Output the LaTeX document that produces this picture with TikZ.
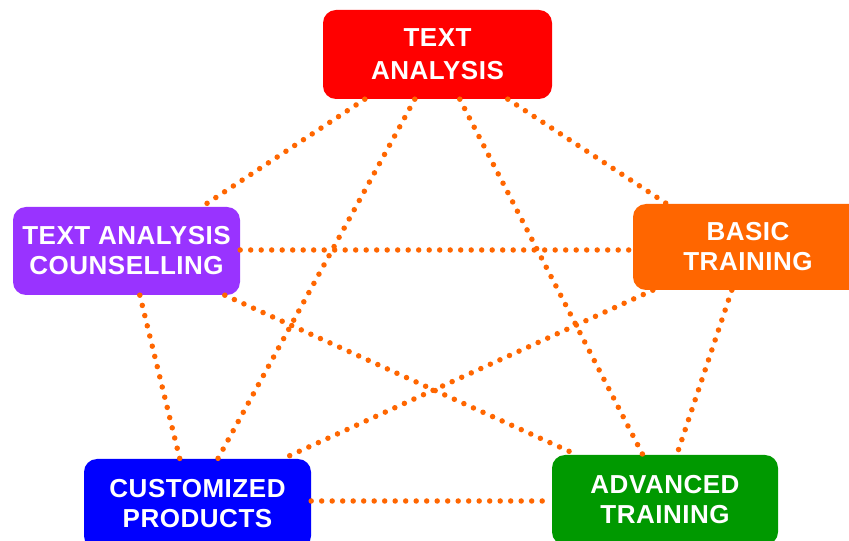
\documentclass[tikz,border=0pt]{standalone}
\usepackage{fontspec}
\setmainfont{Liberation Sans}
\definecolor{boxred}{HTML}{FF0000}
\definecolor{boxpurple}{HTML}{9933FF}
\definecolor{boxorange}{HTML}{FF6600}
\definecolor{boxblue}{HTML}{0000FF}
\definecolor{boxgreen}{HTML}{009900}
\definecolor{linkorange}{HTML}{FF6600}
\begin{document}
\begin{tikzpicture}[x=1pt,y=1pt,
  topic/.style={rounded corners=13pt, inner sep=0pt, align=center,
    text=white, font=\fontsize{26}{30}\selectfont\bfseries\addfontfeatures{LetterSpace=2}},
  link/.style={draw=linkorange, line width=5.5pt, line cap=round,
    dash pattern=on 0pt off 10.5pt}]
\useasboundingbox (0,0) rectangle (849,541);
\fill[white] (0,0) rectangle (849,541);

% topic boxes
\node[topic, fill=boxred, minimum width=229, minimum height=89,
  font=\fontsize{26}{33}\selectfont\bfseries\addfontfeatures{LetterSpace=2}] (ta) at (437.5,486.5) {TEXT\\ANALYSIS};
\node[topic, fill=boxpurple, minimum width=227, minimum height=88] (tac) at (126.5,290) {TEXT ANALYSIS\\COUNSELLING};
\node[topic, fill=boxorange, minimum width=230, minimum height=86] (bt) at (748,294) {BASIC\\TRAINING};
\node[topic, fill=boxblue, minimum width=227, minimum height=90] (cp) at (197.5,37) {CUSTOMIZED\\PRODUCTS};
\node[topic, fill=boxgreen, minimum width=226, minimum height=90] (at) at (665,41) {ADVANCED\\TRAINING};

% dotted links between every pair of topics
\draw[link] ([xshift=42]ta.south west) -- ([xshift=189]tac.north west);
\draw[link] ([xshift=92]ta.south west) -- ([xshift=134]cp.north west);
\draw[link] ([xshift=137]ta.south west) -- ([xshift=91]at.north west);
\draw[link] ([xshift=185]ta.south west) -- ([xshift=34]bt.north west);
\draw[link] ([yshift=1]tac.east) -- ([yshift=-3]bt.west);
\draw[link] ([xshift=127]tac.south west) -- ([xshift=96]cp.north west);
\draw[link] ([xshift=212]tac.south west) -- ([xshift=25]at.north west);
\draw[link] ([xshift=20]bt.south west) -- ([xshift=199]cp.north west);
\draw[link] ([xshift=99]bt.south west) -- ([xshift=125]at.north west);
\draw[link] ([yshift=3]cp.east) -- ([yshift=-1]at.west);
\end{tikzpicture}
\end{document}
